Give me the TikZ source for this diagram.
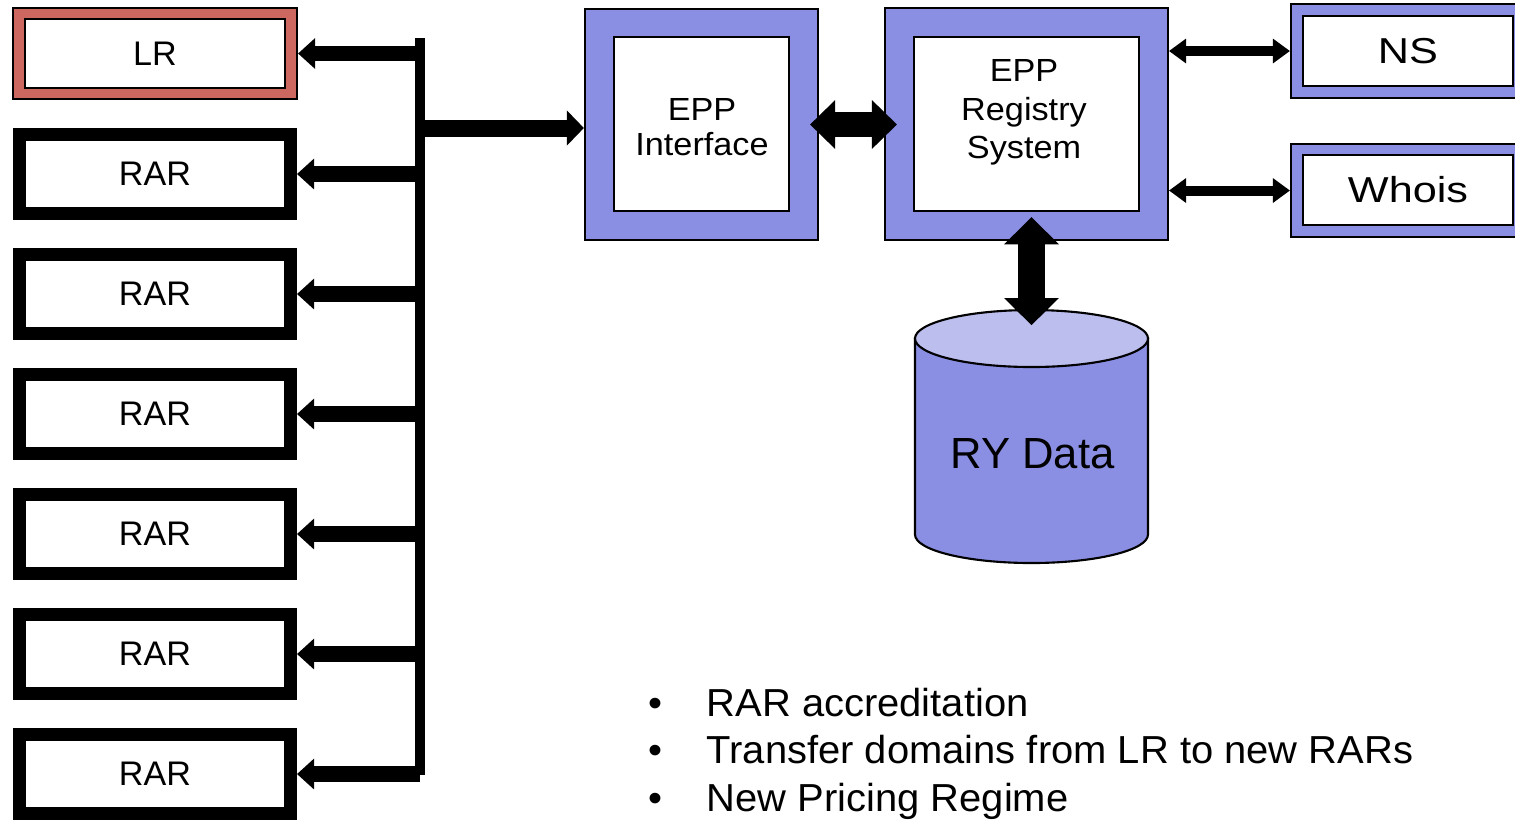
\documentclass[tikz,border=0pt]{standalone}
\usepackage{fontspec}
\setmainfont{Liberation Sans}
\newfontfamily\eppfam[FakeStretch=1.07]{Liberation Sans}
\newfontfamily\nsfam[FakeStretch=1.2]{Liberation Sans}
\newfontfamily\bulfam[FakeStretch=1.023]{Liberation Sans}
\usetikzlibrary{arrows.meta,calc}
\definecolor{boxblue}{RGB}{138,143,227}
\definecolor{topblue}{RGB}{188,190,238}
\definecolor{lrred}{RGB}{205,104,96}
\begin{document}
\begin{tikzpicture}[x=0.01cm,y=0.01cm,
  boxfont/.style={font=\fontsize{9.7pt}{11pt}\selectfont},
  eppfont/.style={font=\eppfam\fontsize{9.1pt}{10.05pt}\selectfont},
  eprfont/.style={font=\eppfam\fontsize{9.1pt}{10.95pt}\selectfont},
  nsfont/.style={font=\nsfam\fontsize{10.25pt}{12pt}\selectfont},
  dbfont/.style={font=\fontsize{12.4pt}{14pt}\selectfont},
  bulfont/.style={font=\bulfam\fontsize{11.1pt}{13pt}\selectfont},
  hairbox/.style={draw=black, line width=0.6pt, inner sep=0pt},
  outerblue/.style={hairbox, fill=boxblue},
  outerred/.style={hairbox, fill=lrred},
  innerwhite/.style={hairbox, fill=white, align=center},
  label/.style={inner sep=0pt, align=center},
  rarbox/.style={draw=black, line width=3.7pt, fill=white, inner sep=0pt,
    minimum width=77.1pt, minimum height=22.5pt, boxfont},
  busline/.style={line width=2.85pt},
  feed/.style={line width=4.4pt, -{Triangle[length=4.84pt,width=8.8pt,line width=0pt]}},
  feedbig/.style={line width=4.84pt, -{Triangle[length=4.84pt,width=10pt,line width=0pt]}},
  dblbig/.style={line width=7.1pt, {Triangle[length=7.1pt,width=13.9pt,line width=0pt]}-{Triangle[length=7.1pt,width=13.9pt,line width=0pt]}},
  dblsmall/.style={line width=2.85pt, {Triangle[length=4.84pt,width=7.1pt,line width=0pt]}-{Triangle[length=4.84pt,width=7.1pt,line width=0pt]}},
  dblvert/.style={line width=7.7pt, {Triangle[length=7.7pt,width=15.6pt,line width=0pt]}-{Triangle[length=7.7pt,width=15.6pt,line width=0pt]}},
]
\useasboundingbox (0,0) rectangle (1515,-820);

% LR box
\node[outerred, minimum width=80.8pt, minimum height=25.9pt] (lro) at (155,-53.5) {};
\node[innerwhite, minimum width=74pt, minimum height=19.6pt, boxfont] (lr) at (155,-53.5) {LR};

% RAR boxes
\foreach \i in {1,...,6}
  \node[rarbox] (rar\i) at (155,{-174-120*(\i-1)}) {RAR};

% EPP Interface
\node[outerblue, minimum width=66.3pt, minimum height=65.7pt] (eppo) at (701.5,-124.5) {};
\node[innerwhite, minimum width=49.8pt, minimum height=49.5pt] (eppi) at (701.5,-124) {};
\node[label, eppfont] (eppit) at (702,-127.2) {EPP\\Interface};

% EPP Registry System
\node[outerblue, minimum width=80.5pt, minimum height=66pt] (eppro) at (1026.5,-124) {};
\node[innerwhite, minimum width=64pt, minimum height=49.5pt] (eppri) at (1026.5,-124) {};
\node[label, eprfont] (epprt) at (1024,-112.5) {EPP\\Registry\\System};

% NS and Whois
\node[outerblue, minimum width=66.6pt, minimum height=26.7pt] (nso) at (1408,-51) {};
\node[innerwhite, minimum width=59.8pt, minimum height=19.9pt, nsfont] (ns) at (1408,-51) {NS};
\node[outerblue, minimum width=66.6pt, minimum height=26.5pt] (whoiso) at (1408,-190.5) {};
\node[innerwhite, minimum width=59.8pt, minimum height=19.9pt, nsfont] (whois) at (1408,-190) {Whois};

% Database cylinder
\filldraw[fill=boxblue, draw=black, line width=0.6pt]
  (915,-338.5) -- (915,-534.5) arc (180:360:116.5 and 28.5) -- (1148,-338.5) -- cycle;
\filldraw[fill=topblue, draw=black, line width=0.6pt] (1031.5,-338.5) ellipse (116.5 and 28.5);
\coordinate (dbtop) at (1031.5,-310);
\node[label, dbfont] (db) at (1032.5,-453.3) {RY Data};

% bus and feeds
\coordinate (bustop) at (420,-38);
\coordinate (busbot) at (420,-775);
\coordinate (tap) at (420,-128);
\draw[busline] (bustop) -- (busbot);
\draw[feed] (lro.east -| bustop) -- (lro.east);
\foreach \i in {1,...,6}
  \draw[feed] (rar\i.east -| bustop) -- (rar\i.east);
\draw[feedbig] (tap) -- (tap -| eppo.west);

% links
\draw[dblbig, shorten <=-2.56pt, shorten >=-3.7pt] (eppo.east) -- (eppo.east -| eppro.west);
\draw[dblsmall] (eppro.east |- nso.west) -- (nso.west);
\draw[dblsmall] (eppro.east |- whoiso.west) -- (whoiso.west);
\draw[dblvert, shorten <=-6.8pt, shorten >=-4.3pt] (dbtop |- eppro.south) -- (dbtop);

% bullets
\node[bulfont, anchor=base, inner sep=0pt] (d1) at (655,-716) {\textbullet};
\node[bulfont, anchor=base west, inner sep=0pt] (b1) at (706,-716) {RAR accreditation};
\node[bulfont, anchor=base, inner sep=0pt] (d2) at (655,-763.5) {\textbullet};
\node[bulfont, anchor=base west, inner sep=0pt] (b2) at (706,-763.5) {Transfer domains from LR to new RARs};
\node[bulfont, anchor=base, inner sep=0pt] (d3) at (655,-811) {\textbullet};
\node[bulfont, anchor=base west, inner sep=0pt] (b3) at (706,-811) {New Pricing Regime};
\end{tikzpicture}
\end{document}
